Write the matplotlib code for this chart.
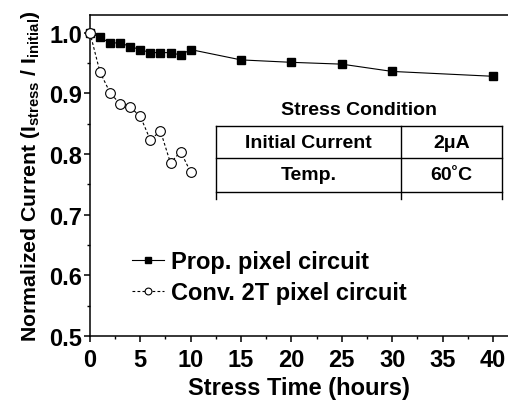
import matplotlib
matplotlib.use('Agg')
import matplotlib.pyplot as plt
from matplotlib.ticker import MultipleLocator

plt.rcParams['font.family'] = ['Liberation Sans', 'DejaVu Sans']
plt.rcParams['font.weight'] = 'bold'
plt.rcParams['mathtext.fontset'] = 'custom'
plt.rcParams['mathtext.rm'] = 'Liberation Sans:bold'
plt.rcParams['mathtext.bf'] = 'Liberation Sans:bold'
plt.rcParams['mathtext.it'] = 'Liberation Sans:bold'
plt.rcParams['mathtext.default'] = 'bf'

# proposed pixel circuit
prop_hours = [0, 1, 2, 3, 4, 5, 6, 7, 8, 9, 10, 15, 20, 25, 30, 40]
prop_current = [1.0, 0.992, 0.983, 0.983, 0.977, 0.972, 0.967, 0.967, 0.967,
                0.963, 0.972, 0.955, 0.951, 0.948, 0.936, 0.928]

# conventional 2T pixel circuit
conv_hours = [0, 1, 2, 3, 4, 5, 6, 7, 8, 9, 10]
conv_current = [1.0, 0.935, 0.901, 0.882, 0.877, 0.862, 0.823, 0.838, 0.785,
                0.804, 0.770]

table_title = 'Stress Condition'
table_rows = [('Initial Current', '2\u03bcA'), ('Temp.', '60\u02daC')]

fig = plt.figure(figsize=(5.08, 4.10), dpi=100)
ax = fig.add_axes([0.177, 0.178, 0.823, 0.783])

ax.plot(prop_hours, prop_current, color='black', lw=0.8, marker='s',
        markersize=6, markerfacecolor='black', markeredgecolor='black',
        label='Prop. pixel circuit', zorder=3, clip_on=False)
ax.plot(conv_hours, conv_current, color='black', lw=0.8, ls=(0, (2.5, 2)),
        marker='o', markersize=7, markerfacecolor='white',
        markeredgecolor='black', markeredgewidth=0.8,
        label='Conv. 2T pixel circuit', zorder=4, clip_on=False)

ax.set_xlim(0, 41.5)
ax.set_ylim(0.5, 1.029)
ax.xaxis.set_major_locator(MultipleLocator(5))
ax.xaxis.set_minor_locator(MultipleLocator(2.5))
ax.yaxis.set_major_locator(MultipleLocator(0.1))
ax.yaxis.set_minor_locator(MultipleLocator(0.05))
ax.tick_params(which='major', direction='out', length=4, width=1.1,
               labelsize=17, pad=1.5)
ax.tick_params(which='minor', direction='out', length=2.5, width=1.0)
ax.tick_params(axis='x', pad=4.5)
ax.spines['right'].set_visible(False)
for s in ['left', 'bottom', 'top']:
    ax.spines[s].set_linewidth(1.1)

ax.set_xlabel('Stress Time (hours)', fontsize=17, fontweight='bold', labelpad=4)
ax.set_ylabel(r'Normalized Current (I$_{stress}$ / I$_{initial}$)',
              fontsize=15.3, fontweight='bold', labelpad=5)

ax.legend(loc='center left', bbox_to_anchor=(0.1, 0.184), frameon=False,
          fontsize=17, handlelength=1.35, handletextpad=0.3,
          labelspacing=0.35, borderpad=0, borderaxespad=0, markerscale=0.7)

# stress condition table
tr = ax.transAxes
xl, xm, xr = 0.3006, 0.744, 0.9856
ys = [0.654, 0.5545, 0.4495]
ybot = 0.4268
for y in ys:
    ax.plot([xl, xr], [y, y], color='black', lw=1.0, transform=tr, clip_on=False)
for x in [xl, xm, xr]:
    ax.plot([x, x], [ys[0], ybot], color='black', lw=1.0, transform=tr,
            clip_on=False)
ax.text((xl + xr) / 2, 0.707, table_title, transform=tr, ha='center',
        va='center', fontsize=14, fontweight='bold')
for i, (name, val) in enumerate(table_rows):
    yc = (ys[i] + ys[i + 1]) / 2
    ax.text((xl + xm) / 2, yc, name, transform=tr, ha='center', va='center',
            fontsize=14, fontweight='bold')
    ax.text((xm + xr) / 2, yc, val, transform=tr, ha='center', va='center',
            fontsize=14, fontweight='bold')

fig.savefig('out.png', dpi=100)
